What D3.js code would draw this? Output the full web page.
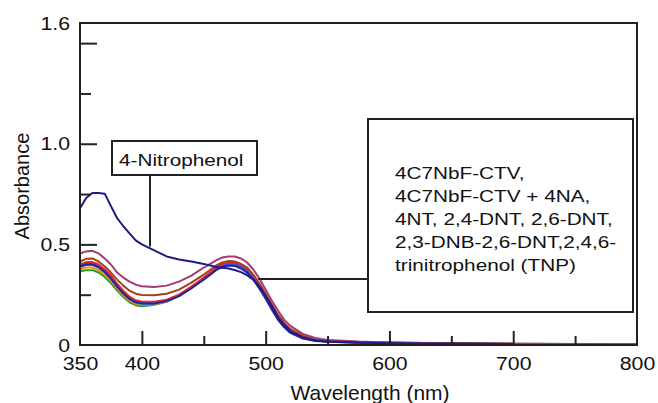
<!DOCTYPE html>
<html>
<head>
<meta charset="utf-8">
<script src="https://cdn.jsdelivr.net/npm/d3@7"></script>
<style>
  body { margin: 0; background: #fff; }
  svg text { font-family: "Liberation Sans", Arial, Helvetica, sans-serif; fill: #111; }
</style>
</head>
<body>
<svg class="chart" width="658" height="403"></svg>
<script>

// wavelength grid (nm)
var wavelengths = [350, 355, 360, 365, 370, 375, 380, 385, 390, 395, 400, 410, 420, 430, 440, 450,
  460, 465, 470, 475, 480, 485, 490, 495, 500, 505, 510, 515, 520, 530, 540, 550, 575, 600, 650, 700, 750, 800];

// absorbance values (null = no data)
var nitrophenol = [.68, .73, .755, .755, .752, .69, .63, .59, .555, .52, .50, .47, .44, .425, .415, .403,
  .388, .384, .38, .373, .362, .347, .325, .29, .245, .195, .135, .10, .068, .038, .022, .017, .012, .009, .007, .005, null, null];
var magenta = [.455, .465, .468, .455, .43, .40, .36, .335, .315, .30, .292, .288, .295, .315, .345, .385,
  .42, .435, .44, .44, .43, .41, .375, .33, .275, .22, .17, .125, .095, .055, .035, .025, .017, .013, .009, .007, .005, .004];
var brown = [.415, .428, .43, .415, .39, .36, .325, .295, .27, .255, .248, .247, .255, .275, .31, .35,
  .395, .41, .418, .415, .403, .385, .35, .305, .255, .20, .15, .11, .08, .045, .03, .022, .015, .012, .008, .006, null, null];
var red = [.40, .412, .412, .40, .375, .345, .305, .27, .24, .222, .215, .215, .225, .25, .29, .335,
  .385, .402, .41, .41, .398, .38, .345, .30, .25, .195, .145, .105, .075, .042, .028, .02, .014, .011, .007, .005, .003, .002];
var blue = [.395, .405, .405, .392, .368, .335, .295, .26, .232, .215, .208, .208, .22, .245, .285, .33,
  .38, .397, .405, .403, .39, .37, .335, .29, .24, .185, .135, .097, .068, .037, .024, .017, .012, .009, .006, .004, .003, .002];
var lightBlue = [.385, .398, .398, .385, .36, .328, .288, .253, .226, .21, .203, .205, .218, .243, .283, .328,
  .378, .395, .403, .40, .387, .367, .332, .287, .237, .183, .133, .095, .066, .036, .023, .016, .011, .008, .005, .004, .003, .002];
var green = [.365, .372, .372, .36, .338, .308, .27, .238, .212, .198, .193, .20, .215, .245, .285, .33,
  .38, .397, .405, .403, .39, .37, .337, .292, .242, .187, .137, .098, .068, .037, .023, .016, .011, .008, .006, .004, null, null];
var orange = [.375, .385, .385, .372, .35, .32, .28, .246, .22, .205, .20, .203, .216, .244, .284, .33,
  .38, .398, .407, .405, .392, .372, .338, .293, .243, .188, .138, .099, .069, .038, .024, .017, .012, .009, .006, .004, null, null];
var navy2 = [.39, .40, .40, .387, .363, .33, .29, .256, .229, .212, .206, .206, .218, .243, .282, .325,
  .372, .388, .395, .393, .38, .36, .325, .28, .23, .175, .125, .088, .06, .032, .02, .016, .012, .009, .007, .006, null, null];

var seriesNames = ['green', 'orange', 'lightBlue', 'blue', 'red', 'navy2', 'brown', 'magenta', 'nitrophenol'];
var seriesValues = [green, orange, lightBlue, blue, red, navy2, brown, magenta, nitrophenol];
var seriesColors = ['#1f9e2a', '#ff8a00', '#3f9fe6', '#2457ff', '#e3262b', '#25259a', '#a2401c', '#a53a72', '#1b1b8c'];

var xLabelTicks = [350, 400, 500, 600, 700, 800];
var xMajorTicks = [400, 500, 600, 700];
var xMinorTicks = [450, 550, 650, 750];
var yLabelTicks = [0, 0.5, 1.0, 1.6];
var yMajorTicks = [0.5, 1.0, 1.5];
var yMinorTicks = [0.25, 0.75, 1.25];

var legendLines = ['4C7NbF-CTV,', '4C7NbF-CTV + 4NA,', '4NT, 2,4-DNT, 2,6-DNT,',
  '2,3-DNB-2,6-DNT,2,4,6-', 'trinitrophenol (TNP)'];

var plotLeft = 80, plotRight = 637, plotTop = 23, plotBottom = 345;

var x = d3.scaleLinear().domain([350, 800]).range([plotLeft, plotRight]);
var y = d3.scaleLinear().domain([0, 1.6]).range([plotBottom, plotTop]);

var svg = d3.select('.chart');

// stretch text horizontally like the (widened) original figure
function stretch(sel, sx) {
  sel.attr('transform', function() {
    var t = d3.select(this);
    var tx = +t.attr('x') || 0;
    return 'translate(' + tx + ',0) scale(' + sx + ',1)';
  }).attr('x', 0);
}

// curves
var line = d3.line()
  .defined(function(d) { return d[1] != null; })
  .x(function(d) { return x(d[0]); })
  .y(function(d) { return y(d[1]); });

svg.append('g')
  .selectAll('path')
  .data(seriesValues)
  .enter()
  .append('path')
    .attr('d', function(vals) {
      return line(wavelengths.map(function(w, i) { return [w, vals[i]]; }));
    })
    .attr('fill', 'none')
    .attr('stroke', function(d, i) { return seriesColors[i]; })
    .attr('stroke-width', 2)
    .attr('stroke-linejoin', 'round');

// frame
svg.append('rect')
  .attr('x', plotLeft)
  .attr('y', plotTop)
  .attr('width', plotRight - plotLeft)
  .attr('height', plotBottom - plotTop)
  .attr('fill', 'none')
  .attr('stroke', '#222')
  .attr('stroke-width', 2);

// x axis ticks (pointing inward)
function styleAxis(g) {
  g.select('.domain').remove();
  g.selectAll('line').attr('stroke', '#222').attr('stroke-width', 2);
}

svg.append('g')
  .attr('transform', 'translate(0,' + plotBottom + ')')
  .call(d3.axisBottom(x).tickValues(xMajorTicks).tickSize(-14).tickFormat(''))
  .call(styleAxis);
svg.append('g')
  .attr('transform', 'translate(0,' + plotBottom + ')')
  .call(d3.axisBottom(x).tickValues(xMinorTicks).tickSize(-9).tickFormat(''))
  .call(styleAxis);
var xLab = svg.append('g')
  .attr('transform', 'translate(0,' + plotBottom + ')')
  .call(d3.axisBottom(x).tickValues(xLabelTicks).tickSize(0).tickPadding(12).tickFormat(d3.format('d')));
xLab.select('.domain').remove();
xLab.selectAll('text')
  .style('font-size', '19px')
  .style('font-family', '"Liberation Sans", Arial, sans-serif')
  .call(stretch, 1.12);

// y axis
svg.append('g')
  .attr('transform', 'translate(' + plotLeft + ',0)')
  .call(d3.axisLeft(y).tickValues(yMajorTicks).tickSize(-17).tickFormat(''))
  .call(styleAxis);
svg.append('g')
  .attr('transform', 'translate(' + plotLeft + ',0)')
  .call(d3.axisLeft(y).tickValues(yMinorTicks).tickSize(-11).tickFormat(''))
  .call(styleAxis);
var yLab = svg.append('g')
  .attr('transform', 'translate(' + (plotLeft - 10) + ',0)')
  .call(d3.axisLeft(y).tickValues(yLabelTicks).tickSize(0).tickPadding(0)
    .tickFormat(function(d) { return d === 0 ? '0' : d3.format('.1f')(d); }));
yLab.select('.domain').remove();
yLab.selectAll('text')
  .style('font-size', '19px')
  .style('font-family', '"Liberation Sans", Arial, sans-serif')
  .call(stretch, 1.12);

// axis titles
svg.append('text')
  .attr('x', 370)
  .attr('y', 400)
  .attr('text-anchor', 'middle')
  .style('font-size', '20px')
  .text('Wavelength (nm)')
  .call(stretch, 1.05);

svg.append('text')
  .attr('transform', 'translate(29,186) rotate(-90)')
  .attr('text-anchor', 'middle')
  .style('font-size', '20px')
  .text('Absorbance');

// 4-Nitrophenol callout
svg.append('line')
  .attr('x1', 150).attr('y1', 175)
  .attr('x2', 150).attr('y2', y(0.49))
  .attr('stroke', '#222').attr('stroke-width', 2);
svg.append('rect')
  .attr('x', 112).attr('y', 141)
  .attr('width', 145).attr('height', 34)
  .attr('fill', '#fff').attr('stroke', '#222').attr('stroke-width', 2);
svg.append('text')
  .attr('x', 119).attr('y', 166)
  .style('font-size', '17px')
  .text('4-Nitrophenol')
  .call(stretch, 1.22);

// legend callout
svg.append('line')
  .attr('x1', x(494)).attr('y1', 279)
  .attr('x2', 368).attr('y2', 279)
  .attr('stroke', '#222').attr('stroke-width', 2);
svg.append('rect')
  .attr('x', 368).attr('y', 119)
  .attr('width', 265).attr('height', 193)
  .attr('fill', '#fff').attr('stroke', '#222').attr('stroke-width', 2);
svg.append('g')
  .selectAll('text')
  .data(legendLines)
  .enter()
  .append('text')
    .attr('x', 395)
    .attr('y', function(d, i) { return 179.5 + i * 23; })
    .style('font-size', '17px')
    .text(function(d) { return d; })
    .call(stretch, 1.22);

</script>
</body>
</html>
